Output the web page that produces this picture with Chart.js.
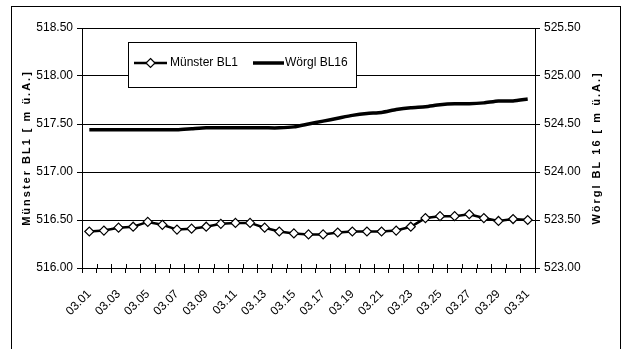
<!DOCTYPE html>
<html>
<head>
<meta charset="utf-8">
<script src="https://cdn.jsdelivr.net/npm/chart.js@4.4.1/dist/chart.umd.min.js"></script>
<style>
  body { margin: 0; background: #fff; }
  #wrap { position: relative; width: 628px; height: 349px; }
</style>
</head>
<body>
<div id="wrap"><canvas id="chart" width="628" height="349"></canvas></div>
<script>
// categories (days in March)
const days = ['03.01','03.02','03.03','03.04','03.05','03.06','03.07','03.08','03.09','03.10',
  '03.11','03.12','03.13','03.14','03.15','03.16','03.17','03.18','03.19','03.20',
  '03.21','03.22','03.23','03.24','03.25','03.26','03.27','03.28','03.29','03.30','03.31'];

// water levels [m ü.A.]
const munster = [516.38, 516.39, 516.42, 516.43, 516.48, 516.45, 516.40, 516.41, 516.43, 516.46,
  516.47, 516.47, 516.42, 516.38, 516.36, 516.35, 516.35, 516.37, 516.38, 516.38,
  516.38, 516.39, 516.43, 516.52, 516.54, 516.54, 516.56, 516.52, 516.49, 516.51, 516.50];
const worgl = [524.44, 524.44, 524.44, 524.44, 524.44, 524.44, 524.44, 524.45, 524.46, 524.46,
  524.46, 524.46, 524.46, 524.46, 524.47, 524.50, 524.53, 524.56, 524.59, 524.61,
  524.62, 524.65, 524.67, 524.68, 524.70, 524.71, 524.71, 524.72, 524.74, 524.74, 524.76];

// axis ranges
const leftRange = [516.0, 518.5];
const rightRange = [523.0, 525.5];
const tickStep = 0.5;

const leftTitle = 'Münster BL1 [ m ü.A.]';
const rightTitle = 'Wörgl BL 16 [ m ü.A.]';

Chart.defaults.font.family = '"Liberation Sans", Arial, sans-serif';
Chart.defaults.font.size = 12;
Chart.defaults.color = '#000';

// frame, axis titles, inner tick halves and the legend box
const decorations = {
  id: 'decorations',
  afterDraw(chart) {
    const ctx = chart.ctx;
    const area = chart.chartArea;
    ctx.save();

    // outer frame
    ctx.strokeStyle = '#000';
    ctx.lineWidth = 1;
    ctx.strokeRect(11.5, 6.5, 609, 360);

    // x tick marks crossing the axis
    const x = chart.scales.x;
    const half = (x.getPixelForValue(1) - x.getPixelForValue(0)) / 2;
    ctx.beginPath();
    for (let i = 0; i <= days.length; i++) {
      const px = Math.round(x.getPixelForValue(i) - half) + 0.5;
      ctx.moveTo(px, area.bottom - 4);
      ctx.lineTo(px, area.bottom);
    }
    ctx.stroke();

    // axis titles, both reading bottom to top
    ctx.font = 'bold 11px "Liberation Sans", Arial, sans-serif';
    ctx.letterSpacing = '2px';
    ctx.textAlign = 'center';
    ctx.textBaseline = 'middle';
    ctx.fillStyle = '#000';
    const midY = (area.top + area.bottom) / 2;
    [[27, leftTitle], [597, rightTitle]].forEach(([tx, txt]) => {
      ctx.save();
      ctx.translate(tx, midY);
      ctx.rotate(-Math.PI / 2);
      ctx.fillText(txt, 0, 0);
      ctx.restore();
    });
    ctx.letterSpacing = '0px';

    // legend
    const bx = 128, by = 42, bw = 228, bh = 45;
    ctx.fillStyle = '#fff';
    ctx.fillRect(bx, by, bw, bh);
    ctx.strokeRect(bx + 0.5, by + 0.5, bw, bh);
    const ly = by + 21;
    ctx.strokeStyle = '#000';
    ctx.lineWidth = 2.5;
    ctx.beginPath();
    ctx.moveTo(134, ly); ctx.lineTo(167, ly);
    ctx.stroke();
    // diamond
    ctx.lineWidth = 1.2;
    ctx.fillStyle = '#fff';
    ctx.beginPath();
    ctx.moveTo(150.5, ly - 4.5); ctx.lineTo(155, ly); ctx.lineTo(150.5, ly + 4.5); ctx.lineTo(146, ly);
    ctx.closePath();
    ctx.fill(); ctx.stroke();
    ctx.lineWidth = 3.5;
    ctx.beginPath();
    ctx.moveTo(253, ly); ctx.lineTo(284, ly);
    ctx.stroke();
    ctx.font = '12px "Liberation Sans", Arial, sans-serif';
    ctx.fillStyle = '#000';
    ctx.textAlign = 'left';
    ctx.fillText(chart.data.datasets[0].label, 170, ly);
    ctx.fillText(chart.data.datasets[1].label, 285, ly);

    ctx.restore();
  }
};

const ctx = document.getElementById('chart').getContext('2d');
new Chart(ctx, {
  type: 'line',
  data: {
    labels: days,
    datasets: [
      {
        label: 'Münster BL1',
        data: munster,
        yAxisID: 'y',
        borderColor: '#000',
        borderWidth: 2.5,
        pointStyle: 'rectRot',
        pointRadius: 4.5,
        pointBackgroundColor: '#fff',
        pointBorderColor: '#000',
        pointBorderWidth: 1.2,
        tension: 0
      },
      {
        label: 'Wörgl BL16',
        data: worgl,
        yAxisID: 'y2',
        borderColor: '#000',
        borderWidth: 3.5,
        pointRadius: 0,
        tension: 0.2
      }
    ]
  },
  options: {
    responsive: false,
    animation: false,
    events: [],
    layout: { padding: { top: 28, left: 0, right: 0, bottom: 0 } },
    plugins: { legend: { display: false }, tooltip: { enabled: false } },
    scales: {
      x: {
        offset: true,
        grid: { offset: true, drawOnChartArea: false, color: '#000', tickLength: 5 },
        border: { color: '#000', width: 1 },
        ticks: {
          autoSkip: false,
          maxRotation: 45,
          minRotation: 45,
          padding: 14,
          font: { size: 12 },
          callback: (v, i) => (i % 2 === 0 ? days[i] : '')
        },
        afterFit: (s) => { s.height = 81; }
      },
      y: {
        position: 'left',
        min: leftRange[0],
        max: leftRange[1],
        ticks: { stepSize: tickStep, padding: 4, callback: (v) => v.toFixed(2) },
        grid: { color: '#000', tickLength: 5 },
        border: { color: '#000', width: 1 },
        afterFit: (s) => { s.width = 82; }
      },
      y2: {
        position: 'right',
        min: rightRange[0],
        max: rightRange[1],
        ticks: { stepSize: tickStep, padding: 4, callback: (v) => v.toFixed(2) },
        grid: { drawOnChartArea: false, color: '#000', tickLength: 5 },
        border: { color: '#000', width: 1 },
        afterFit: (s) => { s.width = 93; }
      }
    }
  },
  plugins: [decorations]
});
</script>
</body>
</html>
